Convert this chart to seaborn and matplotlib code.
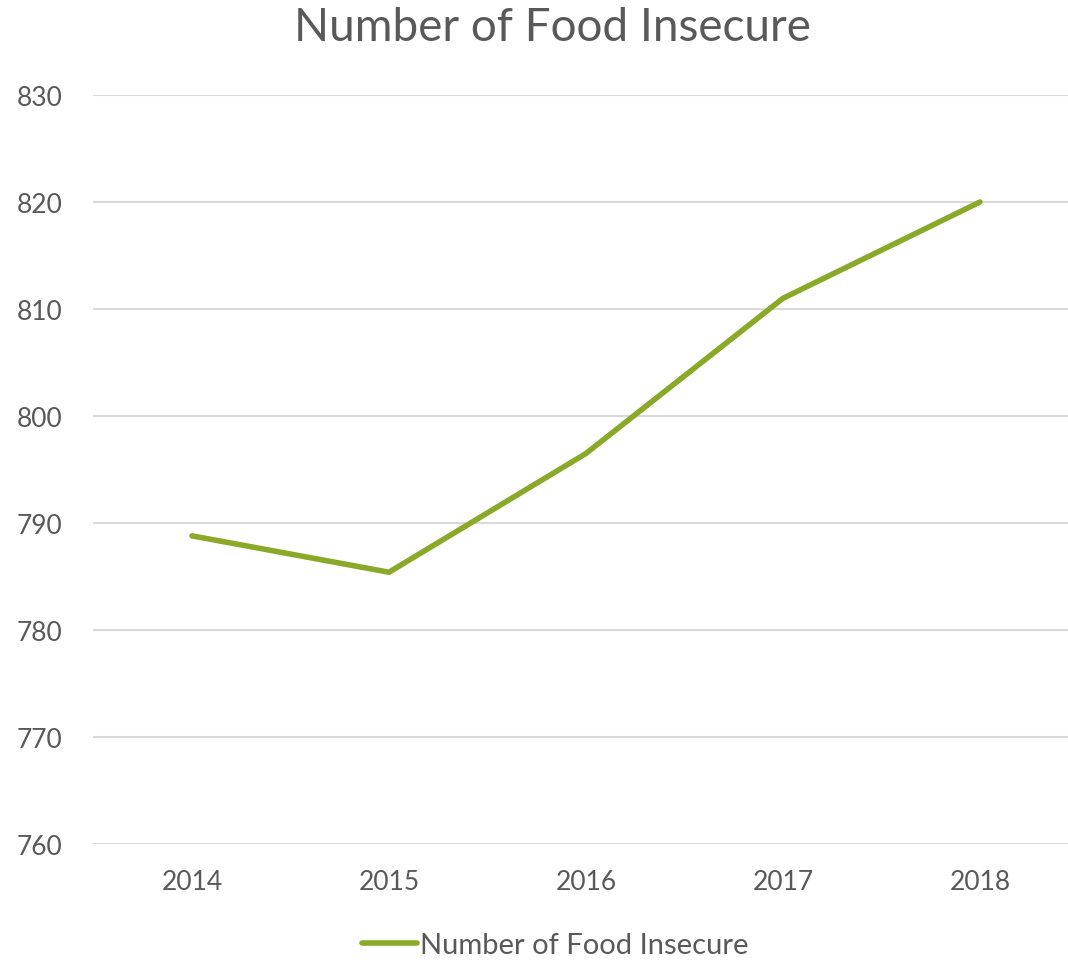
import matplotlib
matplotlib.use("Agg")
import matplotlib.pyplot as plt
import seaborn as sns
import pandas as pd

years = ["2014", "2015", "2016", "2017", "2018"]
food_insecure = [788.8, 785.4, 796.5, 811.0, 820.0]
series_name = "Number of Food Insecure"
y_ticks = [760, 770, 780, 790, 800, 810, 820, 830]

sns.set_theme(style="white")
plt.rcParams["font.family"] = ["Lato", "DejaVu Sans"]
text_color = "#595959"
line_color = "#8BA929"

df = pd.DataFrame({"year": years, "value": food_insecure})
df["x"] = range(len(years))

fig = plt.figure(figsize=(10.68, 9.62), dpi=100)
ax = fig.add_axes([0.087, 0.1216, 0.913, 0.7786])

sns.lineplot(data=df, x="x", y="value", ax=ax, color=line_color, linewidth=4.0,
             label=series_name, solid_capstyle="round", legend=False)

ax.set_xlim(-0.503, 4.447)
ax.set_ylim(760, 830)
ax.set_yticks(y_ticks)
ax.set_xticks(range(len(years)))
ax.set_xticklabels(years)
ax.yaxis.grid(True, color="#D9D9D9", linewidth=1.5)
ax.xaxis.grid(False)
for s in ax.spines.values():
    s.set_visible(False)
ax.set_xlabel("")
ax.set_ylabel("")
ax.tick_params(axis="both", length=0, labelsize=19, colors=text_color)
ax.tick_params(axis="y", pad=22)
ax.tick_params(axis="x", pad=18)

fig.suptitle(series_name, x=552/1068, y=1 - 28/962, va="center",
             fontsize=33, color=text_color)

handles, labels = ax.get_lines()[:1], [series_name]
leg = fig.legend(handles, labels, loc="center", bbox_to_anchor=(555/1068, 1 - 946/962),
                 frameon=False, fontsize=21, handlelength=1.9, handletextpad=0.1,
                 labelcolor=text_color)

fig.savefig("out.png", dpi=100)
